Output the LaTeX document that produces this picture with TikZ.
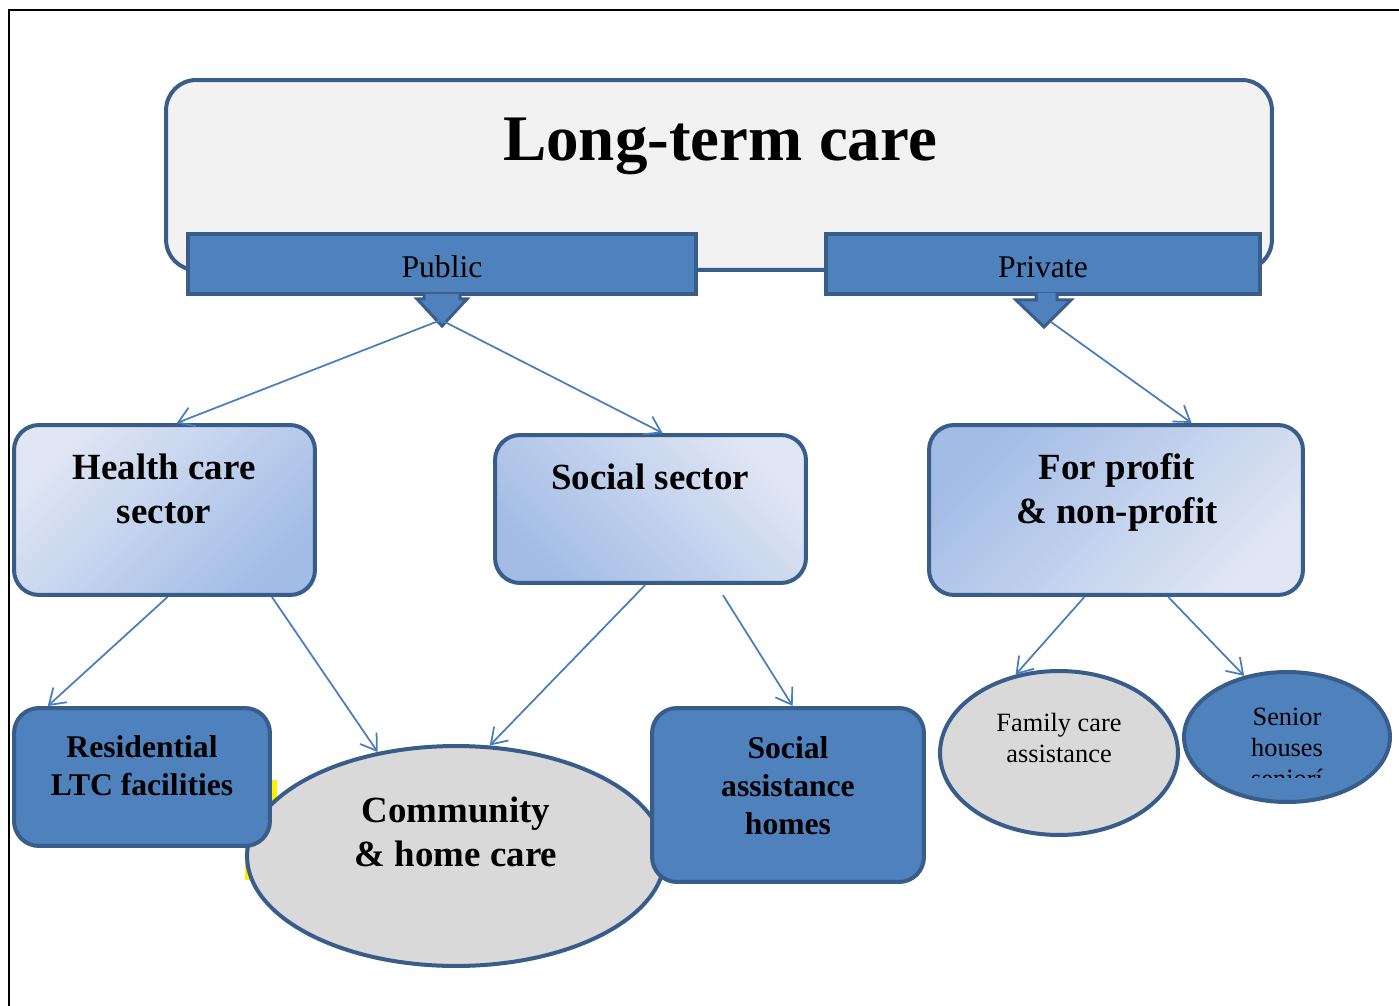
\documentclass[tikz,border=0pt]{standalone}
\usepackage{fontspec}
\setmainfont{Liberation Serif}
\usetikzlibrary{arrows.meta,shapes.geometric}
\definecolor{ltcline}{RGB}{56,93,138}
\definecolor{ltcfill}{RGB}{79,129,189}
\definecolor{ltclink}{RGB}{74,126,187}
\definecolor{ltcgrey}{RGB}{217,217,217}
\definecolor{ltcpale}{RGB}{242,242,242}
\definecolor{ltclight}{RGB}{224,230,243}
\definecolor{ltcdark}{RGB}{163,188,230}
\begin{document}
\begin{tikzpicture}[x=0.02cm,y=-0.02cm,
    box/.style={draw=ltcline,line width=0.08cm,rounded corners=0.5cm,inner sep=0pt},
    bluebox/.style={box,fill=ltcfill},
    shadebox/.style={box,top color=ltclight,bottom color=ltcdark,shading angle=#1},
    oval/.style={ellipse,draw=ltcline,line width=0.08cm,inner sep=0pt},
    tagbox/.style={draw=ltcline,fill=ltcfill,line width=0.08cm,inner sep=0pt},
    tagarrow/.style={draw=ltcline,fill=ltcfill,line width=0.06cm},
    txttag/.style={font=\fontsize{18}{22}\selectfont},
    txtbig/.style={font=\fontsize{21}{25}\selectfont\bfseries,align=center},
    txtmid/.style={font=\fontsize{18}{21.6}\selectfont\bfseries,align=center},
    txtsmall/.style={font=\fontsize{15}{17.8}\selectfont,align=center},
    link/.style={draw=ltclink,line width=0.035cm,-{Straight Barb[length=0.3cm,width=0.4cm]}}]
  \useasboundingbox (0,0) rectangle (1399,1006);
  \draw[line width=0.04cm] (1399,10) -- (9,10) -- (9,1006);
  \fill[yellow] (245,780) rectangle (277,880);

  \node[box,fill=ltcpale,rounded corners=0.6cm,minimum width=22.12cm,minimum height=3.8cm] (lt) at (719,175) {};
  \node[font=\fontsize{37}{44}\selectfont\bfseries] (ltt) at (720,146) {Long-term care};
  \node[tagbox,minimum width=10.16cm,minimum height=1.2cm] (pub) at (442,264) {};
  \node[tagbox,minimum width=8.68cm,minimum height=1.2cm] (priv) at (1043,264) {};
  \node[txttag] (pubt) at (442,267) {Public};
  \node[txttag] (privt) at (1043,267) {Private};
  \draw[tagarrow] (424,294) -- (424,299) -- (417,299) -- (442,326) -- (467,299) -- (460,299) -- (460,294);
  \draw[tagarrow] (1036,293) -- (1036,300) -- (1016,300) -- (1044,327) -- (1071,300) -- (1057,300) -- (1057,293);
  \coordinate (pubtip) at (441,320);
  \coordinate (privtip) at (1051,322);

  \node[shadebox=45,minimum width=6.02cm,minimum height=3.4cm] (hc) at (164.5,510) {};
  \node[shadebox=-45,minimum width=6.22cm,minimum height=2.96cm] (ss) at (650.5,509) {};
  \node[shadebox=225,minimum width=7.48cm,minimum height=3.4cm] (fp) at (1116,510) {};
  \node[txtbig] (hct) at (164,489) {Health care\\sector};
  \node[txtbig] (sst) at (650,477) {Social sector};
  \node[txtbig] (fpt) at (1117,492) {For profit\\\& non-profit};

  \node[oval,fill=ltcgrey,minimum width=8.36cm,minimum height=4.4cm] (ch) at (456,856) {};
  \node[bluebox,minimum width=5.12cm,minimum height=2.76cm] (rl) at (142,777) {};
  \node[bluebox,minimum width=5.44cm,minimum height=3.48cm] (sa) at (788,795) {};
  \node[oval,fill=ltcgrey,minimum width=4.76cm,minimum height=3.28cm] (fc) at (1059,753) {};
  \node[oval,fill=ltcfill,minimum width=4.12cm,minimum height=2.6cm] (sh) at (1287,737) {};
  \node[txtmid] (rlt) at (142,766) {Residential\\LTC facilities};
  \node[txtbig] (cht) at (456,832) {Community\\\& home care};
  \node[txtmid] (sat) at (788,786) {Social\\assistance\\homes};
  \node[txtsmall] (fct) at (1059,738) {Family care\\assistance};
  \begin{scope}
    \clip (1184,600) rectangle (1390,777);
    \node[txtsmall] (sht) at (1287,748) {Senior\\houses\\seniorí};
  \end{scope}

  \begin{scope}[link]
    \draw (pubtip) to (hc.82);
    \draw (pubtip) to (ss.81);
    \draw (privtip) to (fp.49);
    \draw (hc.-88) to (rl.143);
    \draw (hc.-39) to (ch.127);
    \draw (ss.-94) to (ch.73);
    \draw[shorten <=0.24cm] (ss.-49) to (sa.87);
    \draw (fp.-110) to (fc.119);
    \draw (fp.-59) to (sh.125);
  \end{scope}
\end{tikzpicture}
\end{document}
